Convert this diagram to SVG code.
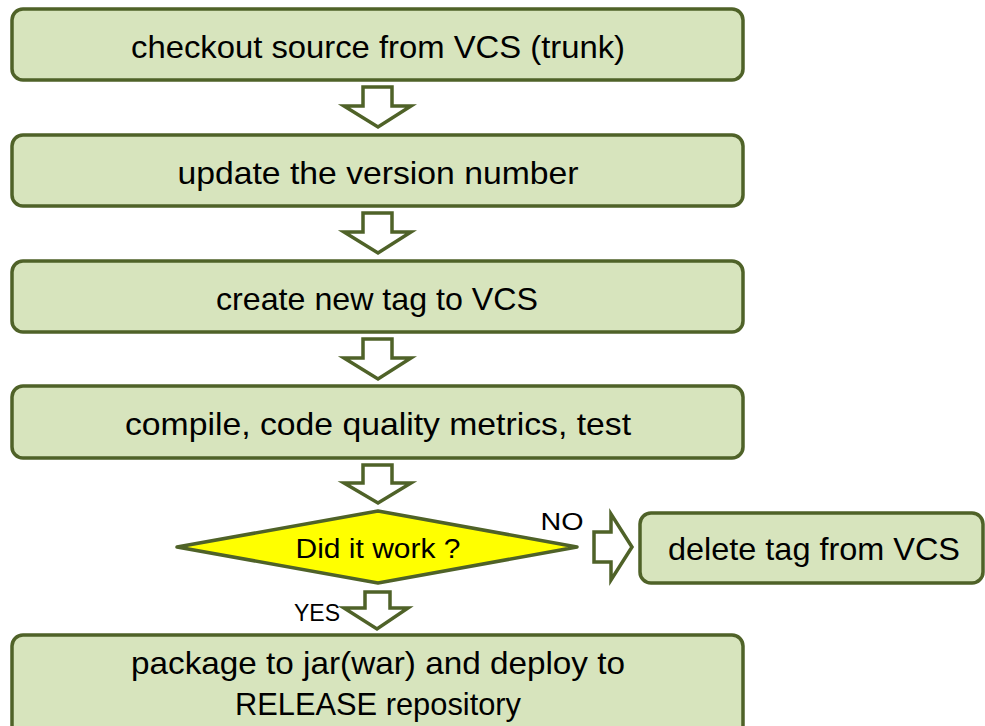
<svg xmlns="http://www.w3.org/2000/svg" width="985" height="726" viewBox="0 0 985 726">
<style>
.box{fill:#D7E4BD;stroke:#4F6228;stroke-width:3.5}
.dia{fill:#FFFF00;stroke:#4F6228;stroke-width:3.5;stroke-linejoin:round}
.arr{fill:#FFFFFF;stroke:#4F6228;stroke-width:3.5;stroke-linejoin:miter}
text{font-family:"Liberation Sans",Arial,sans-serif;fill:#000;text-anchor:middle}
.t{font-size:32px}
.s{font-size:27px}
.l{font-size:24px}
</style>
<rect width="985" height="726" fill="#FFFFFF"/>
<g id="connectors">
<polygon class="arr" points="363,87 392,87 392,106 411,106 378,127 344,106 363,106"/>
<polygon class="arr" points="363,213 392,213 392,232 411,232 378,253 344,232 363,232"/>
<polygon class="arr" points="363,339 392,339 392,358 411,358 378,379 344,358 363,358"/>
<polygon class="arr" points="363,465 392,465 392,483 411,483 378,503 344,483 363,483"/>
<polygon class="arr" points="365,592 390,592 390,608 408,608 377,629 344,608 365,608"/>
<polygon class="arr" points="594,532 611,532 611,514 632,547 611,580 611,562 594,562"/>
<text class="l" x="562" y="530" textLength="43" lengthAdjust="spacingAndGlyphs">NO</text>
<text class="l" x="317" y="621" textLength="46" lengthAdjust="spacingAndGlyphs">YES</text>
</g>
<g id="n1">
<rect class="box" x="12" y="9" width="731" height="71" rx="11"/>
<text class="t" x="378" y="58" textLength="494" lengthAdjust="spacingAndGlyphs">checkout source from VCS (trunk)</text>
</g>
<g id="n2">
<rect class="box" x="12" y="135" width="731" height="71" rx="11"/>
<text class="t" x="378" y="184" textLength="401" lengthAdjust="spacingAndGlyphs">update the version number</text>
</g>
<g id="n3">
<rect class="box" x="12" y="261" width="731" height="71" rx="11"/>
<text class="t" x="377" y="310" textLength="322" lengthAdjust="spacingAndGlyphs">create new tag to VCS</text>
</g>
<g id="n4">
<rect class="box" x="12" y="386" width="731" height="72" rx="11"/>
<text class="t" x="378" y="435" textLength="506" lengthAdjust="spacingAndGlyphs">compile, code quality metrics, test</text>
</g>
<g id="decision">
<polygon class="dia" points="177,547 378,511 577,547 378,583"/>
<text class="s" x="378" y="558" textLength="165" lengthAdjust="spacingAndGlyphs">Did it work ?</text>
</g>
<g id="n5">
<rect class="box" x="640" y="513" width="343" height="70" rx="11"/>
<text class="t" x="814" y="560" textLength="292" lengthAdjust="spacingAndGlyphs">delete tag from VCS</text>
</g>
<g id="n6">
<rect class="box" x="12" y="635" width="731" height="110" rx="11"/>
<text class="t" x="378" y="674" textLength="494" lengthAdjust="spacingAndGlyphs">package to jar(war) and deploy to</text>
<text class="t" x="378" y="715" textLength="286" lengthAdjust="spacingAndGlyphs">RELEASE repository</text>
</g>
</svg>
